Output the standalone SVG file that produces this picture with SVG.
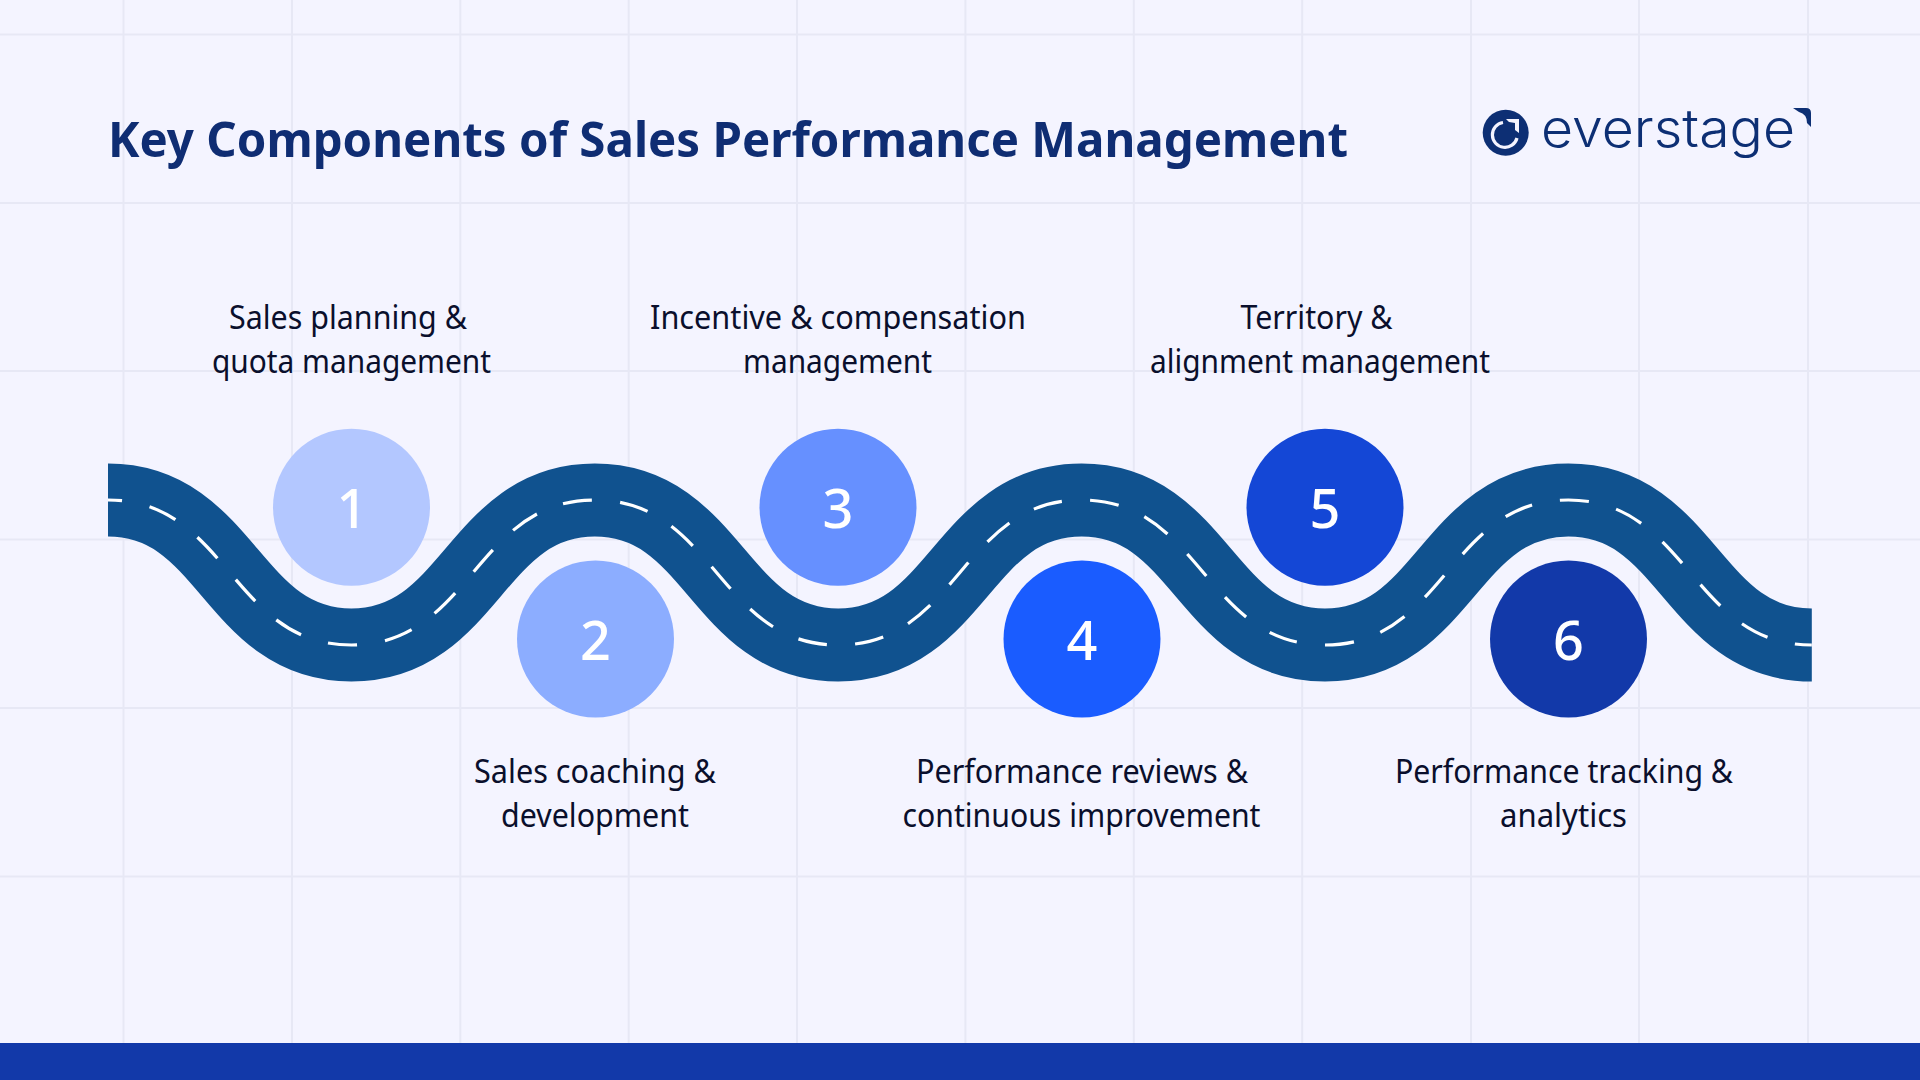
<svg xmlns="http://www.w3.org/2000/svg" width="1920" height="1080" viewBox="0 0 1920 1080">
<style>
.grid line{stroke:#e7e8f5;stroke-width:2}
.lbl{font-family:"Noto Sans","Open Sans",sans-serif;font-size:32px;fill:#0a0f2c}
.num{font-family:"Noto Sans","Open Sans",sans-serif;font-size:54px;font-weight:500;fill:#fff;text-anchor:middle}
.road{fill:none;stroke:#10528f;stroke-width:73}
.dash{fill:none;stroke:#fff;stroke-width:3.2;stroke-dasharray:29 28.2;stroke-dashoffset:15}
</style>
<rect width="1920" height="1080" fill="#f4f4ff"/>
<g class="grid" id="grid">
<line x1="123.5" y1="0" x2="123.5" y2="1044"/><line x1="292" y1="0" x2="292" y2="1044"/><line x1="460.3" y1="0" x2="460.3" y2="1044"/><line x1="628.7" y1="0" x2="628.7" y2="1044"/><line x1="797" y1="0" x2="797" y2="1044"/><line x1="965.4" y1="0" x2="965.4" y2="1044"/><line x1="1133.8" y1="0" x2="1133.8" y2="1044"/><line x1="1302.2" y1="0" x2="1302.2" y2="1044"/><line x1="1471" y1="0" x2="1471" y2="1044"/><line x1="1639" y1="0" x2="1639" y2="1044"/><line x1="1808" y1="0" x2="1808" y2="1044"/>
<line x1="0" y1="34.5" x2="1920" y2="34.5"/><line x1="0" y1="203" x2="1920" y2="203"/><line x1="0" y1="371" x2="1920" y2="371"/><line x1="0" y1="539.5" x2="1920" y2="539.5"/><line x1="0" y1="708" x2="1920" y2="708"/><line x1="0" y1="876.5" x2="1920" y2="876.5"/>
</g>
<rect id="footer" x="0" y="1043" width="1920" height="37" fill="#1239a9"/>
<text id="title" x="108" y="157" font-family="Noto Sans, Open Sans, sans-serif" font-weight="700" font-size="49" fill="#0f2d73" textLength="1240" lengthAdjust="spacingAndGlyphs">Key Components of Sales Performance Management</text>
<g id="logo">
<circle cx="1505.7" cy="132.7" r="23" fill="#0d2f74"/>
<path d="M1517 138 A12.5 12.5 0 1 1 1503 122.5" fill="none" stroke="#f4f4ff" stroke-width="3.2"/>
<path d="M1506 119 L1519 119 L1519 133 L1515 130 L1515 123 L1509 122 Z" fill="#f4f4ff"/>
<text x="1541" y="147" font-family="Inter, Lato, sans-serif" font-weight="300" font-size="52" fill="#0d2f74" textLength="254" lengthAdjust="spacingAndGlyphs">everstage</text>
<path d="M1793 108 L1806 108 Q1811 108 1811 113 L1811 127 L1807 123 Q1807 114 1799 112 Z" fill="#0d2f74"/>
</g>
<g id="connectors">
<path class="road" d="M108 500 C228 500 231.4 645 351.4 645 S474.8 500 594.8 500 S718.2 645 838.2 645 S961.6 500 1081.6 500 S1205 645 1325 645 S1448.4 500 1568.4 500 S1691.8 645 1811.8 645"/>
<path class="dash" d="M108 500 C228 500 231.4 645 351.4 645 S474.8 500 594.8 500 S718.2 645 838.2 645 S961.6 500 1081.6 500 S1205 645 1325 645 S1448.4 500 1568.4 500 S1691.8 645 1811.8 645"/>
</g>
<g id="node1"><circle cx="351.5" cy="507.3" r="78.5" fill="#b3c7ff"/><text class="num" x="352" y="528">1</text>
<text class="lbl" x="229" y="329" textLength="238" lengthAdjust="spacingAndGlyphs">Sales planning &amp;</text><text class="lbl" x="212" y="373" textLength="279" lengthAdjust="spacingAndGlyphs">quota management</text></g>
<g id="node2"><circle cx="595.5" cy="639" r="78.5" fill="#8cadff"/><text class="num" x="595.5" y="660">2</text>
<text class="lbl" x="474" y="783" textLength="242" lengthAdjust="spacingAndGlyphs">Sales coaching &amp;</text><text class="lbl" x="501" y="827" textLength="188" lengthAdjust="spacingAndGlyphs">development</text></g>
<g id="node3"><circle cx="838" cy="507.3" r="78.5" fill="#6690ff"/><text class="num" x="838" y="528">3</text>
<text class="lbl" x="650" y="329" textLength="376" lengthAdjust="spacingAndGlyphs">Incentive &amp; compensation</text><text class="lbl" x="743" y="373" textLength="189" lengthAdjust="spacingAndGlyphs">management</text></g>
<g id="node4"><circle cx="1082" cy="639" r="78.5" fill="#1a5cff"/><text class="num" x="1082" y="660">4</text>
<text class="lbl" x="916" y="783" textLength="332" lengthAdjust="spacingAndGlyphs">Performance reviews &amp;</text><text class="lbl" x="902.5" y="827" textLength="358" lengthAdjust="spacingAndGlyphs">continuous improvement</text></g>
<g id="node5"><circle cx="1325" cy="507.3" r="78.5" fill="#1447d6"/><text class="num" x="1325" y="528">5</text>
<text class="lbl" x="1240.5" y="329" textLength="152" lengthAdjust="spacingAndGlyphs">Territory &amp;</text><text class="lbl" x="1150" y="373" textLength="340" lengthAdjust="spacingAndGlyphs">alignment management</text></g>
<g id="node6"><circle cx="1568.5" cy="639" r="78.5" fill="#1239a9"/><text class="num" x="1568.5" y="660">6</text>
<text class="lbl" x="1395" y="783" textLength="338" lengthAdjust="spacingAndGlyphs">Performance tracking &amp;</text><text class="lbl" x="1500" y="827" textLength="127" lengthAdjust="spacingAndGlyphs">analytics</text></g>
</svg>
